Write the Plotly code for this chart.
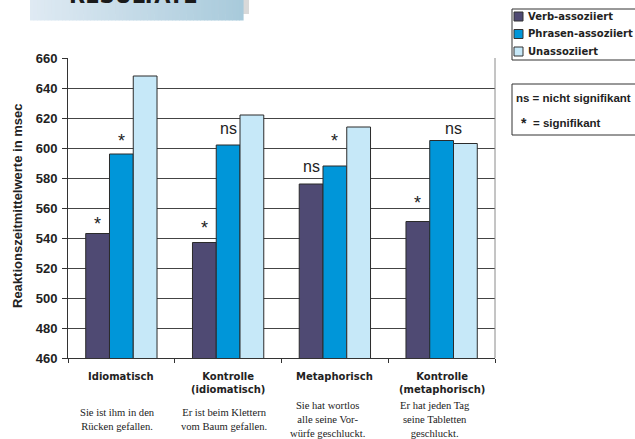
import plotly.graph_objects as go

# ---------------- data ----------------
categories = ["Idiomatisch", "Kontrolle (idiomatisch)", "Metaphorisch", "Kontrolle (metaphorisch)"]
category_labels = ["Idiomatisch", "Kontrolle<br>(idiomatisch)", "Metaphorisch", "Kontrolle<br>(metaphorisch)"]
example_sentences = [
    "Sie ist ihm in den<br>Rücken gefallen.",
    "Er ist beim Klettern<br>vom Baum gefallen.",
    "Sie hat wortlos<br>alle seine Vor-<br>würfe geschluckt.",
    "Er hat jeden Tag<br>seine Tabletten<br>geschluckt.",
]
series_names = ["Verb-assoziiert", "Phrasen-assoziiert", "Unassoziiert"]
verb_values = [543, 537, 576, 551]
phrasen_values = [596, 602, 588, 605]
unassoz_values = [648, 622, 614, 603]
y_ticks = [460, 480, 500, 520, 540, 560, 580, 600, 620, 640, 660]
# significance marks: (group index, series position, label, label centre value)
sig_marks = [
    (0, 0, "*", 553), (0, 1, "*", 608),
    (1, 0, "*", 550), (1, 1, "ns", 613),
    (2, 0, "ns", 588), (2, 1, "*", 608),
    (3, 0, "*", 567), (3, 1.5, "ns", 613),
]

# ---------------- styles ----------------
colors = ["#4f4a73", "#0096d9", "#c6e8f8"]
W, H = 635, 439
L, R, T, B = 68, 140, 58, 81
BARGAP = 0.332
bw = (1 - BARGAP) / 3

def px(x):
    return (x - L) / (W - L - R)

def py(y):
    return 1 - (y - T) / (H - T - B)

fig = go.Figure()
for name, vals, col in zip(series_names, [verb_values, phrasen_values, unassoz_values], colors):
    fig.add_trace(go.Bar(
        x=categories, y=vals, name=name,
        marker=dict(color=col, line=dict(color="#2b2b2b", width=1)),
        showlegend=False,
    ))

shapes = []
annotations = []

# right border of plot area
shapes.append(dict(type="line", xref="paper", yref="paper", x0=1, x1=1, y0=0, y1=1,
                   line=dict(color="#8a8a8a", width=1)))

# significance labels
for g, s, lab, yv in sig_marks:
    xv = g + (s - 1) * bw
    if lab == "*":
        annotations.append(dict(x=xv, y=yv, xref="x", yref="y", text="*", showarrow=False,
                                yanchor="middle", yshift=-5,
                                font=dict(family="Liberation Sans", size=18, color="#222")))
    else:
        annotations.append(dict(x=xv, y=yv, xref="x", yref="y", text=lab, showarrow=False,
                                yanchor="middle",
                                font=dict(family="Liberation Sans", size=16, color="#222")))

# category labels and sentences
for i, (lab, sent) in enumerate(zip(category_labels, example_sentences)):
    annotations.append(dict(x=i, y=py(369), xref="x", yref="paper", text="<b>" + lab + "</b>",
                            showarrow=False, yanchor="top",
                            font=dict(family="DejaVu Sans", size=10, color="#222")))
    annotations.append(dict(x=i, y=py(419), xref="x", yref="paper", text=sent,
                            showarrow=False, yanchor="middle", xshift=-4 if i < 2 else -7,
                            font=dict(family="Liberation Serif", size=10.6, color="#222")))

# y-axis title
annotations.append(dict(x=px(17), y=py(206), xref="paper", yref="paper",
                        text="<b>Reaktionszeitmittelwerte in msec</b>", textangle=-90,
                        showarrow=False, xanchor="center", yanchor="middle",
                        font=dict(family="Liberation Sans", size=13, color="#222")))

# legend box
shapes.append(dict(type="rect", xref="paper", yref="paper", x0=px(512), x1=px(640),
                   y0=py(9), y1=py(60), line=dict(color="#333", width=1), fillcolor="white"))
for k, (name, col) in enumerate(zip(series_names, colors)):
    yc = 16.5 + k * 17.5
    shapes.append(dict(type="rect", xref="paper", yref="paper", x0=px(514), x1=px(523),
                       y0=py(yc + 4.5), y1=py(yc - 4.5), line=dict(color="#333", width=1),
                       fillcolor=col))
    annotations.append(dict(x=px(526), y=py(yc), xref="paper", yref="paper",
                            text="<b>" + name + "</b>", showarrow=False,
                            xanchor="left", yanchor="middle",
                            font=dict(family="DejaVu Sans", size=10, color="#222")))

# significance key box
shapes.append(dict(type="rect", xref="paper", yref="paper", x0=px(512), x1=px(640),
                   y0=py(84), y1=py(135), line=dict(color="#333", width=1), fillcolor="white"))
annotations.append(dict(x=px(514), y=py(98), xref="paper", yref="paper",
                        text="<b>ns = nicht signifikant</b>", showarrow=False,
                        xanchor="left", yanchor="middle",
                        font=dict(family="Liberation Sans", size=11.5, color="#222")))
annotations.append(dict(x=px(524), y=py(123), xref="paper", yref="paper",
                        text="<b>*</b>", showarrow=False, xanchor="center", yanchor="middle",
                        font=dict(family="Liberation Sans", size=14, color="#222")))
annotations.append(dict(x=px(531), y=py(123), xref="paper", yref="paper",
                        text="<b>= signifikant</b>", showarrow=False,
                        xanchor="left", yanchor="middle",
                        font=dict(family="Liberation Sans", size=11.5, color="#222")))

# title banner (cut off at top, as in the original slide)
shapes.append(dict(type="rect", xref="paper", yref="paper", x0=px(36), x1=px(249),
                   y0=py(14), y1=py(-5), line=dict(width=0), fillcolor="#d9d9d9", layer="below"))
c0 = (0xdf, 0xea, 0xf3)
c1 = (0xa8, 0xca, 0xdb)
n = 60
x_start, x_end = 30, 243
for k in range(n):
    t = k / (n - 1)
    c = tuple(int(round(a + (b - a) * t)) for a, b in zip(c0, c1))
    xa = x_start + (x_end - x_start) * k / n
    xb = x_start + (x_end - x_start) * (k + 1) / n + 0.6
    shapes.append(dict(type="rect", xref="paper", yref="paper", x0=px(xa), x1=px(xb),
                       y0=py(20.5), y1=py(-5), line=dict(width=0),
                       fillcolor="rgb(%d,%d,%d)" % c, layer="below"))
annotations.append(dict(x=px(133.5), y=py(10), xref="paper", yref="paper",
                        text="<b>RESULTATE</b>", showarrow=False,
                        xanchor="center", yanchor="bottom",
                        font=dict(family="DejaVu Sans", size=21, color="#1a1a1a")))

fig.update_layout(
    width=W, height=H,
    margin=dict(l=L, r=R, t=T, b=B),
    paper_bgcolor="white", plot_bgcolor="white",
    barmode="group", bargap=BARGAP, bargroupgap=0,
    shapes=shapes, annotations=annotations,
    xaxis=dict(type="category", showticklabels=False, tickson="boundaries",
               ticks="outside", ticklen=4, tickcolor="#333",
               showline=True, linecolor="#333", linewidth=1, showgrid=False,
               range=[-0.5, 3.5], fixedrange=True),
    yaxis=dict(range=[460, 660], tickmode="array", tickvals=y_ticks,
               ticktext=["<b>%d</b>" % v for v in y_ticks],
               ticks="outside", ticklen=5,
               tickcolor="#333", showline=True, linecolor="#333", linewidth=1,
               showgrid=True, gridcolor="#444", gridwidth=1, zeroline=False,
               tickfont=dict(family="Liberation Sans", size=13, color="#222"),
               ticklabelstandoff=2, fixedrange=True),
    font=dict(family="Liberation Sans"),
)

fig.write_html("out.html")
